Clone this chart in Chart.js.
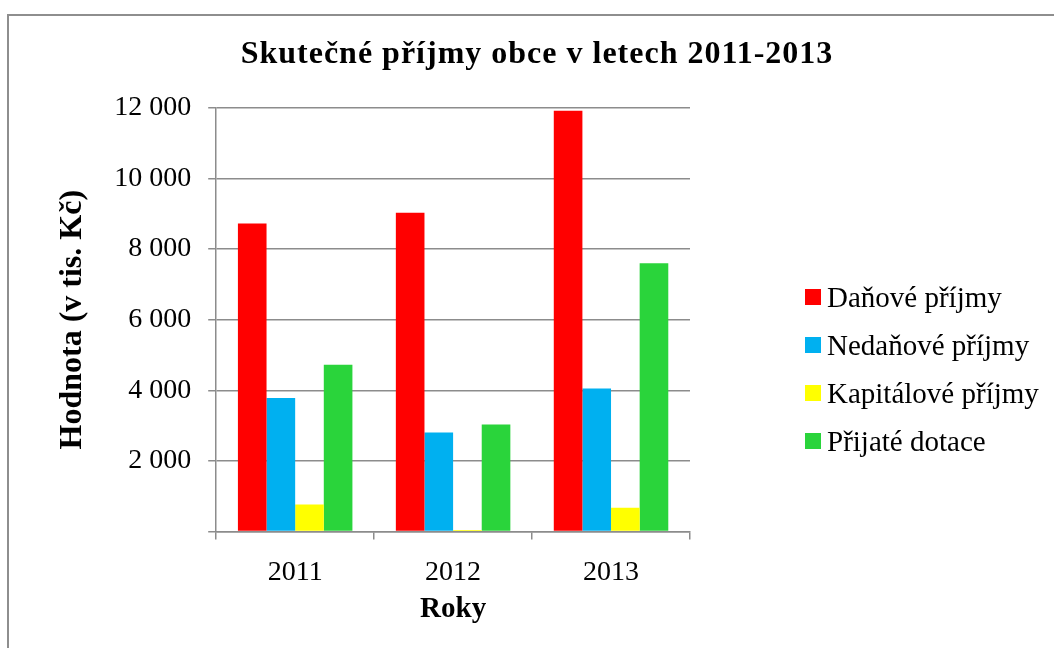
<!DOCTYPE html>
<html>
<head>
<meta charset="utf-8">
<script src="https://cdn.jsdelivr.net/npm/chart.js@4/dist/chart.umd.min.js"></script>
<style>
    body { margin: 0; background: #fff; }
    #wrap { position: relative; width: 1054px; height: 648px; overflow: hidden; }
    #frame { position: absolute; left: 7px; top: 14px; width: 1100px; height: 700px;
             border-left: 2px solid #8e8e8e; border-top: 2px solid #8e8e8e; }
    #chartCanvas { position: absolute; left: 0; top: 0; }
    #legend-div { position: absolute; left: 805px; top: 273px; }
    #legend-div ul { list-style: none; margin: 0; padding: 0; }
    #legend-div li { height: 48px; display: flex; align-items: center;
                     font-family: 'Liberation Serif', 'Times New Roman', serif; font-size: 29px; color: #000; }
    #legend-div li span { display: inline-block; width: 16px; height: 16px; margin-right: 6px; }
</style>
</head>
<body>
<div id="wrap">
    <div id="frame"></div>
    <canvas id="chartCanvas" width="1054" height="648"></canvas>
    <div id="legend-div"></div>
</div>
<script>
let years = ['2011', '2012', '2013'];
let seriesNames = ['Daňové příjmy', 'Nedaňové příjmy', 'Kapitálové příjmy', 'Přijaté dotace'];
let danove = [8730, 9030, 11920];
let nedanove = [3780, 2800, 4050];
let kapitalove = [760, 40, 670];
let dotace = [4720, 3030, 7600];
let colors = ['#ff0000', '#00b0f0', '#ffff00', '#2ad43b'];
let yTicks = [0, 2000, 4000, 6000, 8000, 10000, 12000];
let chartTitle = 'Skutečné příjmy obce v letech 2011-2013';

let gridColor = '#8c8c8c';
let serif = "'Liberation Serif', 'Times New Roman', serif";

Chart.defaults.font.family = serif;
Chart.defaults.color = '#000';

let formatNum = function (v) {
    if (v === 0) return '';
    return String(v).replace(/\B(?=(\d{3})+(?!\d))/g, ' ');
};

// title centred on the whole page, not just the plot area
let pageTitle = {
    id: 'pageTitle',
    afterDraw: function (chart) {
        let c = chart.ctx;
        c.save();
        c.font = 'bold 32px ' + serif;
        c.letterSpacing = '1px';
        c.fillStyle = '#000';
        c.textAlign = 'center';
        c.textBaseline = 'middle';
        c.fillText(chartTitle, 537, 55);
        c.restore();
    }
};

let barChartData = {
    labels: years,
    datasets: [danove, nedanove, kapitalove, dotace].map(function (vals, i) {
        return {
            label: seriesNames[i],
            data: vals,
            backgroundColor: colors[i],
            borderWidth: 0,
            categoryPercentage: 0.725,
            barPercentage: 1.0
        };
    })
};

window.onload = function () {
    let ctx = document.getElementById('chartCanvas').getContext('2d');
    window.barChart = new Chart(ctx, {
        type: 'bar',
        data: barChartData,
        plugins: [pageTitle],
        options: {
            responsive: false,
            animation: false,
            layout: { padding: { left: 49, right: 364, top: 108, bottom: 19.6 } },
            plugins: {
                legend: { display: false },
                tooltip: { enabled: false },
                title: { display: false }
            },
            scales: {
                x: {
                    grid: { offset: true, drawOnChartArea: false, drawTicks: true, tickLength: 8,
                            color: gridColor, lineWidth: 1.5 },
                    border: { display: true, color: gridColor, width: 1.5 },
                    ticks: { font: { size: 28 }, padding: 16, color: '#000' },
                    title: { display: true, text: 'Roky', font: { size: 29, weight: 'bold' },
                             color: '#000', padding: { top: -12.4, bottom: 1 } }
                },
                y: {
                    min: 0,
                    max: 12000,
                    afterBuildTicks: function (axis) {
                        axis.ticks = yTicks.map(function (v) { return { value: v }; });
                    },
                    grid: { color: gridColor, lineWidth: 1.5, tickLength: 8 },
                    border: { display: true, color: gridColor, width: 1.5 },
                    ticks: { font: { size: 28 }, padding: 17, color: '#000', callback: formatNum },
                    title: { display: true, text: 'Hodnota (v tis. Kč)', font: { size: 32, weight: 'bold' },
                             color: '#000', padding: { top: 4.4, bottom: 5.4 } }
                }
            }
        }
    });
    document.getElementById('legend-div').innerHTML = customLegend(window.barChart);
};

let customLegend = function (chart) {
    let ul = document.createElement('ul');
    chart.data.datasets.forEach(function (ds) {
        ul.innerHTML += `<li><span style="background-color: ${ds.backgroundColor}"></span>${ds.label}</li>`;
    });
    return ul.outerHTML;
};
</script>
</body>
</html>
